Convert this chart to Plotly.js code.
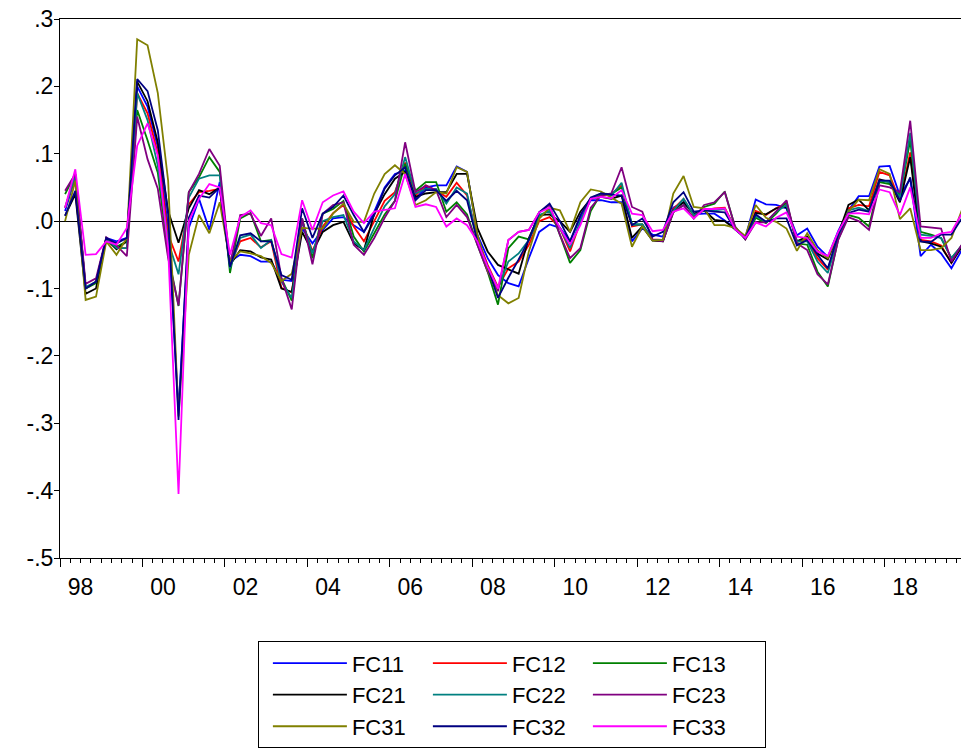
<!DOCTYPE html>
<html>
<head>
<meta charset="utf-8">
<script src="https://cdn.plot.ly/plotly-3.0.1.min.js"></script>
<style>
  html, body { margin: 0; padding: 0; overflow: hidden; background: #fff; }
  #chart { width: 975px; height: 756px; }
</style>
</head>
<body>
<div id="chart"></div>
<script>
// Quarterly series, 1998Q1 - 2019Q4 (two years per line)
const fc11 = [
  0.015, 0.065, -0.100, -0.090, -0.025, -0.030, -0.025, 0.200,
  0.170, 0.110, -0.010, -0.280, -0.010, 0.033, -0.013, 0.058,
  -0.060, -0.050, -0.052, -0.060, -0.060, -0.087, -0.089, -0.011,
  -0.033, -0.013, 0.004, 0.006, -0.006, -0.016, 0.014, 0.050,
  0.070, 0.075, 0.033, 0.050, 0.053, 0.053, 0.081, 0.073,
  -0.020, -0.055, -0.080, -0.092, -0.097, -0.055, -0.016, -0.005,
  -0.010, -0.030, 0.005, 0.031, 0.031, 0.028, 0.028, -0.030,
  -0.011, -0.020, -0.023, 0.020, 0.028, 0.010, 0.011, 0.011,
  0.001, -0.010, -0.025, 0.032, 0.025, 0.024, 0.019, -0.021,
  -0.011, -0.038, -0.053, -0.015, 0.016, 0.037, 0.037, 0.081,
  0.082, 0.038, 0.063, -0.052, -0.035, -0.048, -0.070, -0.043
];
const fc12 = [
  0.020, 0.068, -0.100, -0.090, -0.026, -0.040, -0.040, 0.190,
  0.160, 0.100, -0.020, -0.060, 0.025, 0.043, 0.045, 0.048,
  -0.065, -0.030, -0.025, -0.039, -0.030, -0.099, -0.106, 0.000,
  -0.045, -0.008, 0.012, 0.024, -0.008, -0.030, 0.000, 0.030,
  0.043, 0.087, 0.038, 0.053, 0.045, 0.036, 0.057, 0.038,
  -0.025, -0.065, -0.098, -0.070, -0.060, -0.035, 0.000, 0.006,
  -0.010, -0.045, -0.001, 0.034, 0.038, 0.040, 0.053, -0.008,
  -0.005, -0.027, -0.028, 0.018, 0.033, 0.008, 0.016, 0.019,
  0.020, -0.010, -0.025, 0.015, 0.009, 0.019, 0.026, -0.031,
  -0.026, -0.055, -0.072, -0.022, 0.019, 0.024, 0.022, 0.073,
  0.068, 0.030, 0.102, -0.028, -0.030, -0.036, -0.062, -0.036
];
const fc13 = [
  0.040, 0.070, -0.100, -0.092, -0.025, -0.038, -0.030, 0.165,
  0.120, 0.072, -0.050, -0.126, 0.043, 0.065, 0.095, 0.073,
  -0.077, 0.004, 0.012, -0.030, -0.028, -0.085, -0.118, 0.004,
  -0.055, 0.011, 0.018, 0.030, -0.023, -0.045, -0.018, 0.010,
  0.030, 0.085, 0.045, 0.058, 0.058, 0.014, 0.028, 0.010,
  -0.035, -0.075, -0.124, -0.040, -0.023, -0.027, 0.004, 0.019,
  -0.020, -0.062, -0.043, 0.015, 0.041, 0.040, 0.050, -0.005,
  -0.005, -0.028, -0.030, 0.013, 0.024, 0.004, 0.021, 0.026,
  0.044, -0.008, -0.027, 0.005, -0.003, 0.011, 0.029, -0.033,
  -0.035, -0.075, -0.097, -0.027, 0.009, 0.005, -0.008, 0.058,
  0.055, 0.038, 0.120, -0.016, -0.020, -0.025, -0.055, -0.036
];
const fc21 = [
  0.008, 0.040, -0.108, -0.100, -0.027, -0.042, -0.030, 0.207,
  0.178, 0.117, 0.015, -0.032, 0.019, 0.046, 0.040, 0.050,
  -0.065, -0.043, -0.045, -0.054, -0.057, -0.100, -0.105, -0.016,
  -0.046, -0.016, -0.006, -0.001, -0.033, -0.043, 0.011, 0.040,
  0.063, 0.073, 0.036, 0.041, 0.043, 0.043, 0.070, 0.070,
  -0.010, -0.045, -0.065, -0.072, -0.078, -0.025, 0.009, 0.010,
  0.000, -0.016, 0.014, 0.033, 0.036, 0.033, 0.038, -0.025,
  -0.008, -0.029, -0.030, 0.016, 0.028, 0.011, 0.016, 0.002,
  0.000, -0.012, -0.025, 0.012, 0.010, 0.019, 0.021, -0.030,
  -0.023, -0.048, -0.057, -0.020, 0.024, 0.032, 0.016, 0.062,
  0.058, 0.028, 0.095, -0.030, -0.033, -0.038, -0.062, -0.038
];
const fc22 = [
  0.020, 0.068, -0.098, -0.090, -0.026, -0.040, -0.040, 0.190,
  0.150, 0.082, -0.030, -0.079, 0.035, 0.063, 0.068, 0.068,
  -0.070, -0.025, -0.020, -0.040, -0.028, -0.090, -0.114, 0.000,
  -0.048, 0.000, 0.006, 0.009, -0.030, -0.043, -0.010, 0.022,
  0.040, 0.095, 0.041, 0.048, 0.048, 0.026, 0.050, 0.041,
  -0.030, -0.068, -0.100, -0.060, -0.048, -0.028, 0.009, 0.015,
  -0.010, -0.040, 0.000, 0.033, 0.041, 0.038, 0.057, -0.005,
  -0.005, -0.028, -0.028, 0.015, 0.033, 0.009, 0.016, 0.016,
  0.018, -0.010, -0.025, 0.008, -0.001, 0.014, 0.024, -0.030,
  -0.030, -0.060, -0.077, -0.025, 0.016, 0.020, 0.015, 0.060,
  0.058, 0.035, 0.131, -0.020, -0.022, -0.025, -0.055, -0.036
];
const fc23 = [
  0.045, 0.070, -0.093, -0.085, -0.024, -0.036, -0.052, 0.155,
  0.092, 0.048, -0.055, -0.125, 0.043, 0.070, 0.107, 0.082,
  -0.065, 0.009, 0.011, -0.022, 0.004, -0.084, -0.131, 0.004,
  -0.064, 0.011, 0.024, 0.028, -0.035, -0.050, -0.025, 0.005,
  0.030, 0.117, 0.043, 0.053, 0.046, 0.006, 0.024, 0.006,
  -0.035, -0.075, -0.104, -0.028, -0.016, -0.013, 0.013, 0.024,
  -0.020, -0.055, -0.040, 0.020, 0.038, 0.041, 0.080, 0.021,
  0.014, -0.028, -0.030, 0.013, 0.024, 0.004, 0.024, 0.028,
  0.043, -0.008, -0.027, -0.002, -0.002, 0.014, 0.031, -0.033,
  -0.043, -0.079, -0.094, -0.028, 0.006, 0.000, -0.013, 0.053,
  0.050, 0.043, 0.149, -0.008, -0.010, -0.011, -0.060, -0.035
];
const fc31 = [
  0.000, 0.060, -0.117, -0.112, -0.030, -0.050, -0.025, 0.270,
  0.261, 0.190, 0.060, -0.290, -0.050, 0.009, -0.018, 0.028,
  -0.060, -0.045, -0.048, -0.052, -0.062, -0.089, -0.078, -0.010,
  -0.011, -0.011, 0.011, 0.026, -0.001, -0.001, 0.041, 0.070,
  0.083, 0.070, 0.024, 0.031, 0.043, 0.041, 0.080, 0.073,
  -0.020, -0.072, -0.110, -0.122, -0.114, -0.045, 0.004, 0.020,
  0.016, -0.016, 0.028, 0.047, 0.044, 0.035, 0.026, -0.038,
  -0.008, -0.029, -0.028, 0.041, 0.067, 0.021, 0.019, -0.006,
  -0.006, -0.010, -0.022, 0.024, 0.005, -0.001, -0.011, -0.044,
  -0.018, -0.043, -0.055, -0.018, 0.014, 0.032, 0.031, 0.077,
  0.070, 0.003, 0.019, -0.043, -0.043, -0.040, -0.025, 0.016
];
const fc32 = [
  0.008, 0.045, -0.100, -0.090, -0.025, -0.033, -0.025, 0.211,
  0.193, 0.135, 0.010, -0.295, 0.005, 0.038, 0.035, 0.050,
  -0.068, -0.021, -0.018, -0.030, -0.030, -0.080, -0.087, 0.019,
  -0.025, 0.011, 0.021, 0.038, 0.009, -0.016, 0.009, 0.048,
  0.068, 0.080, 0.031, 0.046, 0.046, 0.030, 0.045, 0.031,
  -0.030, -0.068, -0.114, -0.084, -0.057, -0.028, 0.013, 0.026,
  0.000, -0.030, 0.009, 0.035, 0.041, 0.040, 0.038, -0.006,
  0.004, -0.023, -0.016, 0.028, 0.043, 0.014, 0.016, 0.014,
  0.013, -0.012, -0.025, 0.010, -0.001, 0.004, 0.004, -0.036,
  -0.028, -0.050, -0.070, -0.020, 0.012, 0.017, 0.014, 0.060,
  0.060, 0.030, 0.065, -0.030, -0.031, -0.020, -0.020, 0.004
];
const fc33 = [
  0.020, 0.077, -0.050, -0.049, -0.030, -0.035, -0.010, 0.112,
  0.145, 0.097, -0.040, -0.405, 0.000, 0.033, 0.055, 0.050,
  -0.050, 0.006, 0.016, -0.003, -0.006, -0.049, -0.054, 0.031,
  -0.013, 0.028, 0.038, 0.044, 0.014, -0.003, 0.014, 0.016,
  0.019, 0.070, 0.021, 0.025, 0.021, -0.008, 0.004, -0.006,
  -0.030, -0.068, -0.100, -0.028, -0.016, -0.013, 0.013, 0.020,
  -0.010, -0.035, -0.006, 0.033, 0.036, 0.034, 0.046, 0.011,
  0.009, -0.015, -0.013, 0.014, 0.019, 0.004, 0.018, 0.018,
  0.019, -0.012, -0.025, -0.002, -0.008, 0.005, 0.013, -0.023,
  -0.025, -0.045, -0.052, -0.016, 0.011, 0.012, 0.010, 0.047,
  0.043, 0.009, 0.050, -0.025, -0.025, -0.018, -0.016, 0.011
];

const seriesNames = ['FC11', 'FC12', 'FC13', 'FC21', 'FC22', 'FC23', 'FC31', 'FC32', 'FC33'];
const seriesValues = [fc11, fc12, fc13, fc21, fc22, fc23, fc31, fc32, fc33];
const seriesColors = ['#0000ff', '#ff0000', '#008000', '#000000', '#008080',
                      '#800080', '#808000', '#000080', '#ff00ff'];
// legend columns: FC?1 / FC?2 / FC?3
const legendColumns = ['col1', 'col2', 'col3', 'col1', 'col2', 'col3', 'col1', 'col2', 'col3'];

const firstYear = 1998, lastYear = 2019;
const yTickVals = [0.3, 0.2, 0.1, 0.0, -0.1, -0.2, -0.3, -0.4, -0.5];
const yTickText = ['.3', '.2', '.1', '.0', '-.1', '-.2', '-.3', '-.4', '-.5'];
const xTickYears = [1998, 2000, 2002, 2004, 2006, 2008, 2010, 2012, 2014, 2016, 2018];
const xTickText = ['98', '00', '02', '04', '06', '08', '10', '12', '14', '16', '18'];

// quarter start dates; each point sits in the middle of its quarter
const quarterDates = [];
for (let y = firstYear; y <= lastYear; y++) {
  for (let q = 0; q < 4; q++) {
    quarterDates.push(y + '-' + String(q * 3 + 1).padStart(2, '0') + '-01');
  }
}

const traces = seriesNames.map((name, i) => ({
  type: 'scatter',
  mode: 'lines',
  name: name,
  legendgroup: legendColumns[i],
  legendwidth: legendColumns[i] === 'col3' ? 88 : 61,
  x: quarterDates,
  y: seriesValues[i],
  xperiod: 'M3',
  xperiodalignment: 'middle',
  line: { color: seriesColors[i], width: 1.8 },
  hoverinfo: 'x+y+name'
}));

// empty trace that carries the year-label axis
traces.push({
  type: 'scatter',
  mode: 'lines',
  x: [],
  y: [],
  xaxis: 'x2',
  yaxis: 'y',
  showlegend: false,
  hoverinfo: 'skip'
});

const xRange = ['1998-01-01', '2020-01-01'];

const layout = {
  width: 975,
  height: 756,
  margin: { l: 60, r: 7.5, t: 19, b: 193, pad: 0 },
  paper_bgcolor: '#ffffff',
  plot_bgcolor: '#ffffff',
  font: { family: '"Liberation Sans", Arial, sans-serif', size: 23, color: '#000000' },
  showlegend: true,
  // tick marks: every two years, minor every quarter
  xaxis: {
    type: 'date',
    range: xRange,
    tickmode: 'array',
    tickvals: xTickYears.map(y => y + '-01-01'),
    showticklabels: false,
    ticks: 'outside',
    ticklen: 8,
    tickwidth: 1,
    tickcolor: '#000000',
    minor: { dtick: 'M3', tick0: '1998-01-01', ticks: 'outside', ticklen: 4, tickwidth: 1, tickcolor: '#000000', showgrid: false },
    showgrid: false,
    zeroline: false,
    showline: true,
    mirror: true,
    linecolor: '#000000',
    linewidth: 1,
    fixedrange: true
  },
  // year labels, centred on the first year of each pair
  xaxis2: {
    type: 'date',
    overlaying: 'x',
    anchor: 'y',
    side: 'bottom',
    range: xRange,
    tickmode: 'array',
    tickvals: xTickYears.map(y => y + '-07-02'),
    ticktext: xTickText,
    ticks: 'outside',
    ticklen: 8,
    tickcolor: 'rgba(0,0,0,0)',
    showline: false,
    showgrid: false,
    zeroline: false,
    fixedrange: true
  },
  yaxis: {
    range: [-0.5, 0.3],
    tickmode: 'array',
    tickvals: yTickVals,
    ticktext: yTickText,
    ticks: 'outside',
    ticklen: 5,
    tickwidth: 1,
    tickcolor: '#000000',
    ticklabelstandoff: -4,
    showgrid: false,
    zeroline: true,
    zerolinecolor: '#000000',
    zerolinewidth: 1,
    showline: true,
    mirror: true,
    linecolor: '#000000',
    linewidth: 1,
    fixedrange: true
  },
  legend: {
    orientation: 'h',
    x: (258 - 60) / 907.5,
    y: (563 - 647) / 544,
    xanchor: 'left',
    yanchor: 'top',
    bgcolor: '#ffffff',
    bordercolor: '#000000',
    borderwidth: 1,
    font: { size: 22, color: '#000000' },
    itemwidth: 74,
    indentation: 10,
    entrywidthmode: 'pixels',
    tracegroupgap: 0,
    traceorder: 'grouped'
  }
};

Plotly.newPlot('chart', traces, layout, { displayModeBar: false, staticPlot: true });
</script>
</body>
</html>
